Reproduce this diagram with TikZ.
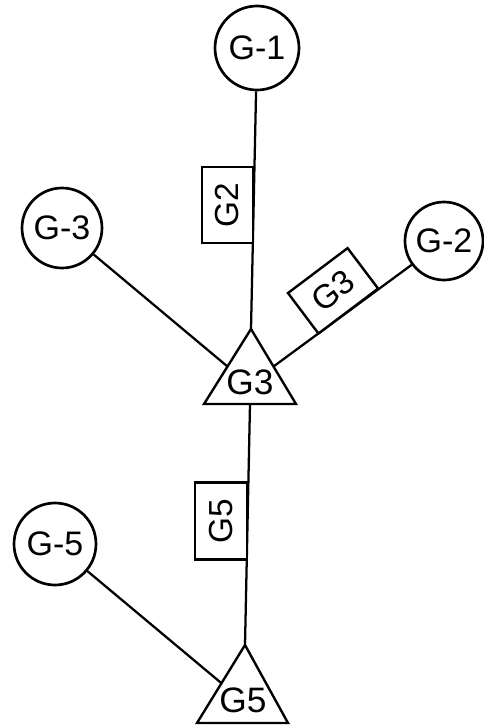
\documentclass[tikz,border=0pt]{standalone}
\usepackage{fontspec}
\setmainfont{Liberation Sans}
\usetikzlibrary{calc}
\begin{document}
\begin{tikzpicture}[x=0.75pt,y=-0.75pt,line width=1.7pt,
  gcircle/.style={circle,draw,line width=2pt,inner sep=0pt,font=\fontsize{25.5}{30}\selectfont},
  gbox/.style={rectangle,draw,fill=white,line width=1.8pt,inner sep=0pt,minimum width=57pt,minimum height=38pt,font=\fontsize{25}{30}\selectfont},
  tlabel/.style={inner sep=0pt,font=\fontsize{26.5}{31}\selectfont},
  tri/.style={draw,line width=1.8pt,line join=miter}]
\useasboundingbox (0,0) rectangle (483,725);

% terminal circles
\node[gcircle,minimum size=63pt] (g1) at (257,48) {G-1};
\node[gcircle,minimum size=60pt] (g3c) at (62,228) {G-3};
\node[gcircle,minimum size=58.5pt] (g2c) at (444,241) {G-2};
\node[gcircle,minimum size=61.5pt] (g5c) at (55,544) {G-5};

% upper triangle G3
\coordinate (a3) at (251,329);
\coordinate (l3) at (204,404);
\coordinate (r3) at (296,404);
\draw[tri] (a3) -- (l3) -- (r3) -- cycle;
\node[tlabel] (t3) at (250,382) {G3};

% lower triangle G5
\coordinate (a5) at (245,645);
\coordinate (l5) at (197,723);
\coordinate (r5) at (288,723);
\draw[tri] (a5) -- (l5) -- (r5) -- cycle;
\node[tlabel] (t5) at (243,700) {G5};

% attachment points on the triangle sides
\coordinate (s3l) at ($(a3)!0.5!(l3)$);
\coordinate (s3r) at ($(a3)!0.5!(r3)$);
\coordinate (b3) at ($(l3)!0.5!(r3)$);
\coordinate (s5l) at ($(a5)!0.49!(l5)$);

% connectors
\draw (g1) -- (a3);
\draw (g3c) -- (s3l);
\draw (g2c) -- (s3r);
\draw (b3) -- (a5);
\draw (g5c) -- (s5l);

% labels sitting on the connectors
\node[gbox,rotate=90,anchor=south] (lg2) at (254,205) {G2};
\node[gbox,rotate=37,anchor=south,minimum width=56pt] (lg3) at (349,312) {G3};
\node[gbox,rotate=90,anchor=south,minimum width=58pt,minimum height=39pt] (lg5) at (248,521) {G5};
\end{tikzpicture}
\end{document}
